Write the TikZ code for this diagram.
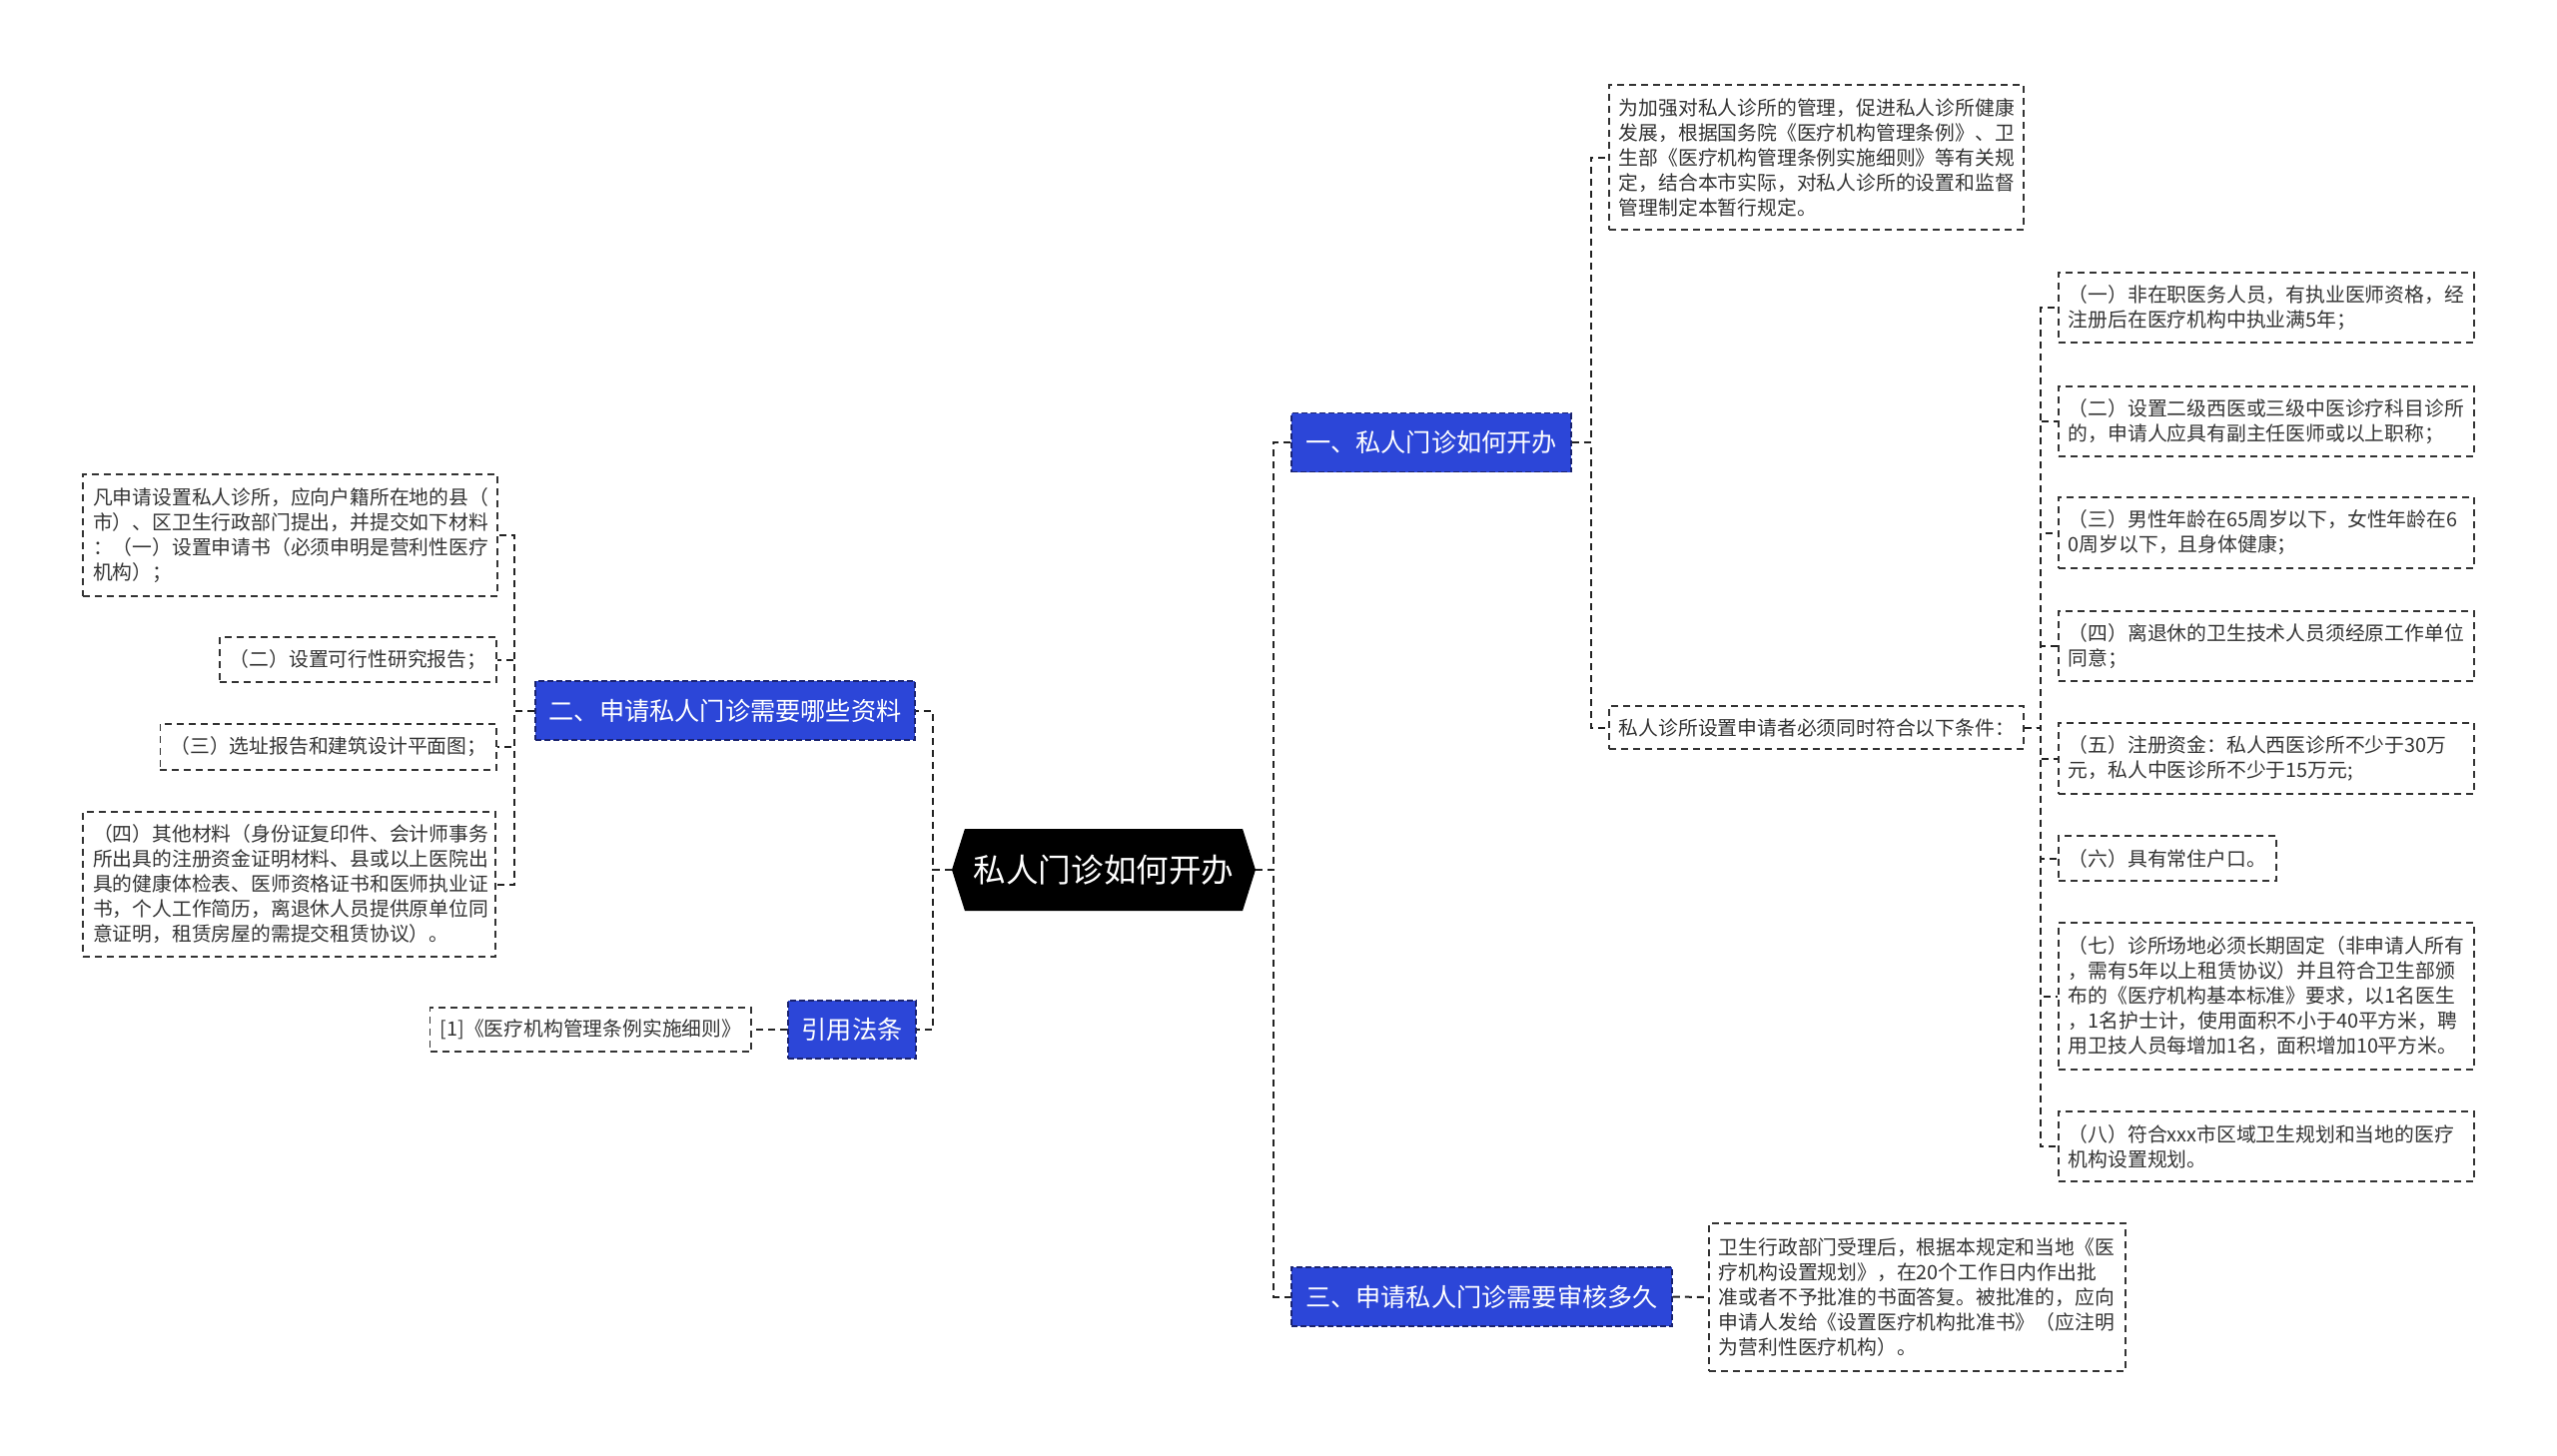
\documentclass[tikz,border=0pt]{standalone}
\usepackage{fontspec}
\setmainfont{Noto Sans CJK SC}
\usepackage{xcolor}
\usepackage{tikz}
\usetikzlibrary{shapes.symbols}
\definecolor{ink}{HTML}{333333}
\definecolor{wire}{HTML}{222222}
\definecolor{royal}{HTML}{2C46D8}
\definecolor{navy}{HTML}{1A2370}

\begin{document}
\begin{tikzpicture}[
  x=0.5pt,y=-0.5pt,
  font=\fontsize{9.9}{12.5}\selectfont,
  leaf/.style={draw=ink,dash pattern=on 3.5pt off 2.5pt,line width=0.8pt,text=ink,align=left,inner xsep=5pt,inner ysep=5pt},
  topic/.style={draw=navy,fill=royal,text=white,dash pattern=on 3pt off 1.5pt,line width=0.8pt,font=\fontsize{12.6}{15}\selectfont,minimum height=29.5pt,inner xsep=6pt},
  hub/.style={signal,signal to=west and east,signal pointer angle=145,fill=black,text=white,font=\fontsize{16.3}{19}\selectfont,minimum width=152pt,minimum height=41pt},
  link/.style={draw=wire,line width=1pt,dash pattern=on 3.5pt off 2.5pt}
]
\useasboundingbox (0,0) rectangle (2560,1457);

\node[hub] (root) at (1105,871) {私人门诊如何开办};

\node[topic,minimum width=140pt] (open) at (1433,443) {一、私人门诊如何开办};
\node[topic,minimum width=190pt] (docs) at (726,711.5) {二、申请私人门诊需要哪些资料};
\node[topic,minimum width=190.5pt] (review) at (1483.5,1298.5) {三、申请私人门诊需要审核多久};
\node[topic,minimum width=64pt,minimum height=29pt] (law) at (853,1031) {引用法条};

% branch one
\node[leaf,text width=197.5pt,minimum height=72.5pt,anchor=west] (intro) at (1610,157.5) {为加强对私人诊所的管理，促进私人诊所健康\\
发展，根据国务院《医疗机构管理条例》、卫\\
生部《医疗机构管理条例实施细则》等有关规\\
定，结合本市实际，对私人诊所的设置和监督\\
管理制定本暂行规定。};
\node[leaf,text width=197.5pt,minimum height=21.5pt,anchor=west] (cond) at (1610,728.5) {私人诊所设置申请者必须同时符合以下条件：};

\node[leaf,text width=198pt,minimum height=35pt,anchor=west] (c1) at (2060,308) {（一）非在职医务人员，有执业医师资格，经\\
注册后在医疗机构中执业满5年；};
\node[leaf,text width=198pt,minimum height=35pt,anchor=west] (c2) at (2060,422) {（二）设置二级西医或三级中医诊疗科目诊所\\
的，申请人应具有副主任医师或以上职称；};
\node[leaf,text width=198pt,minimum height=35.5pt,anchor=west] (c3) at (2060,533.5) {（三）男性年龄在65周岁以下，女性年龄在6\\
0周岁以下，且身体健康；};
\node[leaf,text width=198pt,minimum height=35pt,anchor=west] (c4) at (2060,647) {（四）离退休的卫生技术人员须经原工作单位\\
同意；};
\node[leaf,text width=198pt,minimum height=35.5pt,anchor=west] (c5) at (2060,759.5) {（五）注册资金：私人西医诊所不少于30万\\
元，私人中医诊所不少于15万元;};
\node[leaf,minimum height=22.5pt,anchor=west] (c6) at (2060,859.5) {（六）具有常住户口。};
\node[leaf,text width=198pt,minimum height=73.5pt,anchor=west] (c7) at (2060,997.5) {（七）诊所场地必须长期固定（非申请人所有\\
，需有5年以上租赁协议）并且符合卫生部颁\\
布的《医疗机构基本标准》要求，以1名医生\\
，1名护士计，使用面积不小于40平方米，聘\\
用卫技人员每增加1名，面积增加10平方米。};
\node[leaf,text width=198pt,minimum height=35pt,anchor=west] (c8) at (2060,1148) {（八）符合xxx市区域卫生规划和当地的医疗\\
机构设置规划。};

% branch two
\node[leaf,text width=197.5pt,minimum height=61pt,anchor=east] (apply) at (499,536) {凡申请设置私人诊所，应向户籍所在地的县（\\
市）、区卫生行政部门提出，并提交如下材料\\
：（一）设置申请书（必须申明是营利性医疗\\
机构）；};
\node[leaf,minimum height=22.5pt,anchor=east] (study) at (498,660.5) {（二）设置可行性研究报告；};
\node[leaf,minimum height=23pt,anchor=east] (site) at (498,748) {（三）选址报告和建筑设计平面图；};
\node[leaf,text width=196.5pt,minimum height=72.5pt,anchor=east] (other) at (497,885.5) {（四）其他材料（身份证复印件、会计师事务\\
所出具的注册资金证明材料、县或以上医院出\\
具的健康体检表、医师资格证书和医师执业证\\
书，个人工作简历，离退休人员提供原单位同\\
意证明，租赁房屋的需提交租赁协议）。};

% branch three and the law
\node[leaf,text width=198.5pt,minimum height=74pt,anchor=west] (audit) at (1710,1299) {卫生行政部门受理后，根据本规定和当地《医\\
疗机构设置规划》，在20个工作日内作出批\\
准或者不予批准的书面答复。被批准的，应向\\
申请人发给《设置医疗机构批准书》（应注明\\
为营利性医疗机构）。};
\node[leaf,minimum height=22pt,anchor=east] (rule) at (753,1031) {[1]《医疗机构管理条例实施细则》};

\draw[link] (root.east) -- ++(18,0) |- (open.west);
\draw[link] (root.east) -- ++(18,0) |- (review.west);
\draw[link] (root.west) -- ++(-19,0) |- (docs.east);
\draw[link] (root.west) -- ++(-19,0) |- (law.east);

\draw[link] (open.east) -- ++(19,0) |- (intro.west);
\draw[link] (open.east) -- ++(19,0) |- (cond.west);

\draw[link] (cond.east) -- ++(16,0) |- (c1.west);
\draw[link] (cond.east) -- ++(16,0) |- (c2.west);
\draw[link] (cond.east) -- ++(16,0) |- (c3.west);
\draw[link] (cond.east) -- ++(16,0) |- (c4.west);
\draw[link] (cond.east) -- ++(16,0) |- (c5.west);
\draw[link] (cond.east) -- ++(16,0) |- (c6.west);
\draw[link] (cond.east) -- ++(16,0) |- (c7.west);
\draw[link] (cond.east) -- ++(16,0) |- (c8.west);

\draw[link] (docs.west) -- ++(-20,0) |- (apply.east);
\draw[link] (docs.west) -- ++(-20,0) |- (study.east);
\draw[link] (docs.west) -- ++(-20,0) |- (site.east);
\draw[link] (docs.west) -- ++(-20,0) |- (other.east);

\draw[link] (review.east) -- (audit.west);
\draw[link] (law.west) -- (rule.east);
\end{tikzpicture}
\end{document}
